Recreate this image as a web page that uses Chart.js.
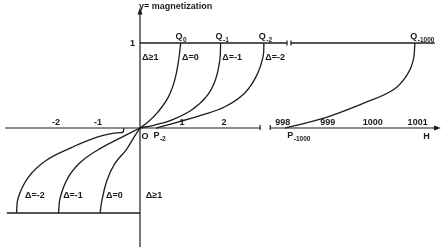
<!DOCTYPE html>
<html>
<head>
<meta charset="utf-8">
<script src="https://cdn.jsdelivr.net/npm/chart.js@4/dist/chart.umd.min.js"></script>
<style>
  html, body { margin: 0; padding: 0; background: #fff; }
</style>
</head>
<body>
<canvas id="chart" width="443" height="250"></canvas>
<script>
// curve points, [H, magnetization]
const upperD0 = [[0, 0], [0.19, 0.07], [0.43, 0.19], [0.67, 0.36], [0.83, 0.57], [0.92, 0.8], [0.97, 1]];
const upperD1 = [[0, 0], [0.35, 0.035], [0.75, 0.094], [1.22, 0.21], [1.58, 0.37], [1.79, 0.56], [1.9, 0.8], [1.92, 1]];
const upperD2 = [[0.38, 0], [0.9, 0.07], [1.45, 0.15], [2.02, 0.25], [2.49, 0.41], [2.77, 0.61], [2.93, 0.84], [2.95, 1]];
const lowerD0 = [[-0.95, -1], [-0.91, -0.86], [-0.79, -0.62], [-0.6, -0.42], [-0.32, -0.25], [-0.12, -0.09], [0, 0]];
const lowerD1 = [[-1.94, -1], [-1.9, -0.82], [-1.71, -0.58], [-1.39, -0.39], [-0.91, -0.23], [-0.44, -0.11], [0, 0]];
const lowerD2 = [[-2.94, -1], [-2.9, -0.82], [-2.66, -0.58], [-2.26, -0.39], [-1.63, -0.23], [-1.2, -0.14], [-0.9, -0.09], [-0.6, -0.06], [-0.4, -0.05]];
const lowerD2Hook = [[-0.4, -0.05], [-0.38, 0]];
const curveD1000 = [[998.05, 0], [998.53, 0.06], [999.05, 0.14], [999.79, 0.29], [1000.46, 0.45], [1000.76, 0.62], [1000.9, 0.79], [1000.94, 1]];
const topLeft = [[0, 1], [3.5, 1]];
const topRight = [[998.18, 1], [1001.38, 1]];
const bottomLine = [[-3.17, -1], [0, -1]];

const tickValues = [-2, -1, 1, 2, 998, 999, 1000, 1001];
const tickLabels = ["-2", "-1", "1", "2", "998", "999", "1000", "1001"];

// broken H axis: the 998..1001 stretch sits right after H = 3
function toU(h) { return h < 500 ? h : 3.4 + (h - 998) * 1.07; }
function pts(arr) { return arr.map(p => ({ x: toU(p[0]), y: p[1] })); }

const ink = "#1c1c1c";
const FONT = '"Liberation Sans", Arial, sans-serif';

function line(data, tension) {
  return {
    data: pts(data),
    borderColor: ink,
    borderWidth: 1.3,
    pointRadius: 0,
    fill: false,
    tension: tension
  };
}

// text with a subscript, e.g. Q_-1
function subText(ctx, base, sub, x, y, align) {
  ctx.font = "bold 9px " + FONT;
  const w1 = ctx.measureText(base).width;
  ctx.font = "bold 6.5px " + FONT;
  const w2 = ctx.measureText(sub).width;
  let left = x;
  if (align === "center") left = x - (w1 + w2) / 2;
  ctx.textAlign = "left";
  ctx.font = "bold 9px " + FONT;
  ctx.fillText(base, left, y);
  ctx.font = "bold 6.5px " + FONT;
  ctx.fillText(sub, left + w1 + 0.5, y + 3);
}

const decor = {
  id: "decor",
  afterDatasetsDraw(chart) {
    const ctx = chart.ctx;
    const xs = chart.scales.x, ys = chart.scales.y;
    const X = u => xs.getPixelForValue(u);
    const Y = m => ys.getPixelForValue(m);

    ctx.save();
    ctx.strokeStyle = ink;
    ctx.fillStyle = ink;
    ctx.lineWidth = 1.2;

    // H axis, broken after 2
    const y0 = Y(0);
    ctx.beginPath();
    ctx.moveTo(X(-3.21), y0); ctx.lineTo(X(2.86), y0);
    ctx.moveTo(X(3.1), y0); ctx.lineTo(X(7.07), y0);
    ctx.stroke();
    ctx.beginPath();
    ctx.moveTo(X(2.86), y0 - 3); ctx.lineTo(X(2.86), y0 + 2);
    ctx.moveTo(X(3.1), y0 - 3); ctx.lineTo(X(3.1), y0 + 2);
    ctx.stroke();
    // arrow on H axis
    ctx.beginPath();
    ctx.moveTo(X(7.07) + 4, y0);
    ctx.lineTo(X(7.07) - 3, y0 - 2.5);
    ctx.lineTo(X(7.07) - 3, y0 + 2.5);
    ctx.closePath();
    ctx.fill();

    // vertical axis
    const x0 = X(0);
    ctx.beginPath();
    ctx.moveTo(x0, Y(-1.4)); ctx.lineTo(x0, Y(1.37));
    ctx.stroke();
    ctx.beginPath();
    ctx.moveTo(x0, Y(1.37) - 4);
    ctx.lineTo(x0 - 2.5, Y(1.37) + 3);
    ctx.lineTo(x0 + 2.5, Y(1.37) + 3);
    ctx.closePath();
    ctx.fill();

    // break marks on the M = 1 line
    ctx.beginPath();
    ctx.moveTo(X(3.5), Y(1) - 2.5); ctx.lineTo(X(3.5), Y(1) + 2.5);
    ctx.moveTo(X(3.595), Y(1) - 2.5); ctx.lineTo(X(3.595), Y(1) + 2.5);
    ctx.stroke();

    // tick labels above the H axis
    ctx.font = "bold 9px " + FONT;
    ctx.textAlign = "center";
    ctx.textBaseline = "alphabetic";
    tickValues.forEach((v, i) => {
      ctx.fillText(tickLabels[i], X(toU(v)), y0 - 3);
    });
    ctx.fillText("H", X(toU(1001.2)), y0 + 11);
    ctx.fillText("O", x0 + 5, y0 + 11);

    ctx.textAlign = "right";
    ctx.fillText("1", x0 - 5, Y(1) + 3);

    ctx.textAlign = "left";
    ctx.fillText("y= magnetization", x0 - 1, 9);

    // Q labels over the M = 1 line
    subText(ctx, "Q", "0", X(0.97), Y(1) - 4, "center");
    subText(ctx, "Q", "-1", X(1.95), Y(1) - 4, "center");
    subText(ctx, "Q", "-2", X(2.98), Y(1) - 4, "center");
    subText(ctx, "Q", "-1000", X(toU(1001.1)), Y(1) - 4, "center");

    // P labels under the H axis
    subText(ctx, "P", "-2", X(0.32), y0 + 10, "left");
    subText(ctx, "P", "-1000", X(toU(998.1)), y0 + 10, "left");

    // delta labels
    ctx.font = "bold 9px " + FONT;
    ctx.textAlign = "left";
    const top = Y(0.8), bot = Y(-0.82);
    ctx.fillText("\u0394\u22651", X(0.05), top);
    ctx.fillText("\u0394=0", X(1.0), top);
    ctx.fillText("\u0394=-1", X(1.96), top);
    ctx.fillText("\u0394=-2", X(2.98), top);
    ctx.fillText("\u0394=-2", X(-2.74), bot);
    ctx.fillText("\u0394=-1", X(-1.83), bot);
    ctx.fillText("\u0394=0", X(-0.81), bot);
    ctx.fillText("\u0394\u22651", X(0.14), bot);

    ctx.restore();
  }
};

new Chart(document.getElementById("chart").getContext("2d"), {
  type: "line",
  data: {
    datasets: [
      line(upperD0, 0.4), line(upperD1, 0.4), line(upperD2, 0.4),
      line(lowerD0, 0.4), line(lowerD1, 0.4), line(lowerD2, 0.4),
      line(lowerD2Hook, 0), line(curveD1000, 0.4),
      line(topLeft, 0), line(topRight, 0), line(bottomLine, 0)
    ]
  },
  options: {
    responsive: false,
    animation: false,
    devicePixelRatio: 1,
    layout: { padding: 0 },
    plugins: { legend: { display: false }, tooltip: { enabled: false } },
    scales: {
      x: { type: "linear", min: -3.333, max: 7.214, display: false },
      y: { type: "linear", min: -1.435, max: 1.506, display: false }
    }
  },
  plugins: [decor]
});
</script>
</body>
</html>
